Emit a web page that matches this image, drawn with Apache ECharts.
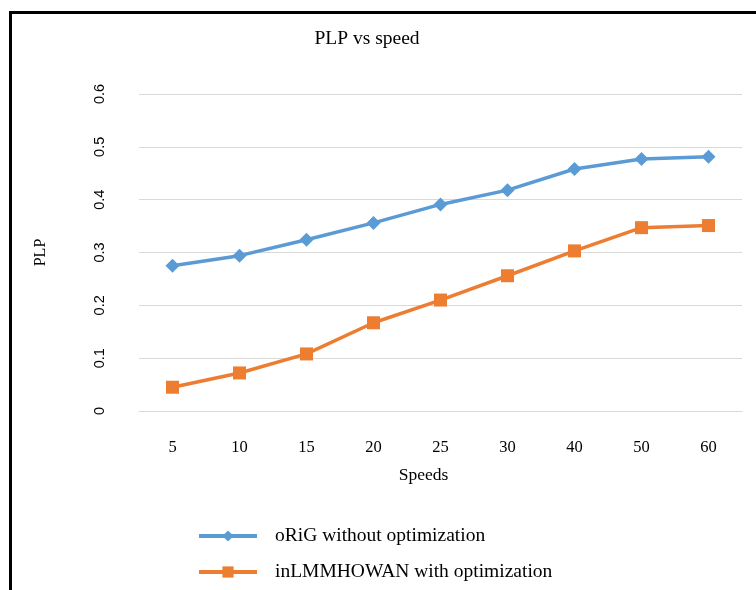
<!DOCTYPE html>
<html>
<head>
<meta charset="utf-8">
<script src="https://cdn.jsdelivr.net/npm/echarts@6/dist/echarts.min.js"></script>
<style>
html,body{margin:0;padding:0;background:#fff;}
#chart{width:756px;height:590px;}
</style>
</head>
<body>
<div id="chart"></div>
<script>
const categories = ['5','10','15','20','25','30','40','50','60'];
const origValues = [0.275, 0.294, 0.324, 0.356, 0.391, 0.418, 0.458, 0.477, 0.481];
const inlmValues = [0.045, 0.072, 0.108, 0.167, 0.210, 0.256, 0.303, 0.347, 0.351];
const seriesNames = ['oRiG without optimization', 'inLMMHOWAN with optimization'];

const chart = echarts.init(document.getElementById('chart'));
const serif = '"Liberation Serif", "Times New Roman", serif';
chart.setOption({
  backgroundColor: '#ffffff',
  animation: false,
  title: {
    text: 'PLP vs speed',
    left: 362,
    textAlign: 'center',
    top: 24,
    textStyle: { fontFamily: serif, fontSize: 19.5, fontWeight: 'normal', color: '#000' }
  },
  grid: { left: 139, right: 14, top: 94, bottom: 179, containLabel: false },
  legend: {
    orient: 'vertical',
    left: 197,
    top: 526,
    padding: 0,
    itemWidth: 58,
    itemHeight: 14,
    itemGap: 16,
    lineStyle: { width: 4 },
    textStyle: { fontFamily: serif, fontSize: 19.5, color: '#000', padding: [0, 0, 0, 13] },
    data: seriesNames
  },
  xAxis: {
    type: 'category',
    data: categories,
    boundaryGap: true,
    name: 'Speeds',
    nameLocation: 'middle',
    nameGap: 55,
    nameTextStyle: { fontFamily: serif, fontSize: 17.5, color: '#000', padding: [0, 34, 0, 0] },
    axisLine: { show: true, lineStyle: { color: '#d9d9d9', width: 1 } },
    axisTick: { show: false },
    axisLabel: { fontFamily: serif, fontSize: 16.5, color: '#000', margin: 28 }
  },
  yAxis: {
    type: 'value',
    min: 0,
    max: 0.6,
    interval: 0.1,
    name: 'PLP',
    nameLocation: 'middle',
    nameGap: 90,
    nameRotate: 90,
    nameTextStyle: { fontFamily: serif, fontSize: 16, color: '#000' },
    axisLine: { show: false },
    axisTick: { show: false },
    splitLine: { show: true, lineStyle: { color: '#d9d9d9', width: 1 } },
    axisLabel: { fontFamily: 'Arial, "Liberation Sans", sans-serif', fontSize: 14.5, color: '#000', rotate: 90, margin: 32 }
  },
  graphic: [
    { type: 'line', shape: { x1: 10.5, y1: 12, x2: 10.5, y2: 590 }, style: { stroke: '#000', lineWidth: 3 } },
    { type: 'line', shape: { x1: 9, y1: 12.5, x2: 756, y2: 12.5 }, style: { stroke: '#000', lineWidth: 3 } }
  ],
  series: [
    {
      name: seriesNames[0],
      type: 'line',
      data: origValues,
      symbol: 'diamond',
      symbolSize: 14,
      lineStyle: { color: '#5b9bd5', width: 3.5 },
      itemStyle: { color: '#5b9bd5' }
    },
    {
      name: seriesNames[1],
      type: 'line',
      data: inlmValues,
      symbol: 'rect',
      symbolSize: 13,
      lineStyle: { color: '#ed7d31', width: 3.5 },
      itemStyle: { color: '#ed7d31' }
    }
  ]
});
</script>
</body>
</html>
